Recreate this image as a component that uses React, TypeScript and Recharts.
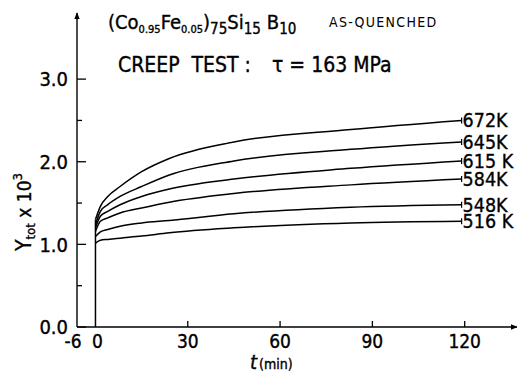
import { Line, LineChart, XAxis, YAxis } from "recharts"

// time in minutes
const times = [0, 1.6, 4, 8, 15, 24, 45, 83, 119]
const y672 = [1.3, 1.46, 1.58, 1.7, 1.88, 2.04, 2.24, 2.39, 2.5]
const y645 = [1.24, 1.4, 1.48, 1.58, 1.7, 1.84, 2.01, 2.15, 2.24]
const y615 = [1.2, 1.34, 1.4, 1.48, 1.58, 1.67, 1.79, 1.92, 2.01]
const y584 = [1.155, 1.28, 1.32, 1.38, 1.44, 1.51, 1.615, 1.72, 1.79]
const y548 = [1.095, 1.15, 1.18, 1.22, 1.26, 1.29, 1.37, 1.45, 1.48]
const y516 = [1.015, 1.05, 1.06, 1.075, 1.1, 1.14, 1.2, 1.26, 1.28]
const seriesNames = ["672K", "645K", "615 K", "584K", "548K", "516 K"]
const seriesValues = [y672, y645, y615, y584, y548, y516]

// instantaneous elastic jump at t = 0
const jumpT = [0, 0]
const jumpV = [0, 1.3]

const xTicks = [-6, 0, 30, 60, 90, 120]
const yTicks = [0, 0.5, 1, 1.5, 2, 2.5, 3]

const FONT = "'DejaVu Sans Condensed', 'DejaVu Sans', sans-serif"
const ink = { fill: "#000", stroke: "#000", strokeWidth: 0.35 }

const series = seriesNames.map((name, i) => ({
  name,
  data: times.map((t, j) => ({ t, v: seriesValues[i][j] })),
}))
const jumpData = jumpT.map((t, j) => ({ t, v: jumpV[j] }))

const YTick = (props: any) => {
  const { x, payload } = props
  const y = payload.coordinate
  const axisX = x + 6
  const major = Number.isInteger(payload.value)
  return (
    <g>
      <line x1={axisX} y1={y} x2={axisX + (major ? 9 : 5)} y2={y} stroke="#000" strokeWidth={1.3} />
      {major && (
        <text x={axisX - 9} y={y} dy="0.36em" textAnchor="end" fontSize={20} fontFamily={FONT} {...ink}>
          {payload.value.toFixed(1)}
        </text>
      )}
    </g>
  )
}

const XTick = (props: any) => {
  const { x, y, payload } = props
  const v = payload.value
  const axisY = y - 2
  return (
    <g>
      {v >= 30 && <line x1={x} y1={axisY} x2={x} y2={axisY - 6} stroke="#000" strokeWidth={1.3} />}
      <text
        x={v === -6 ? x - 4 : x + (v === 0 ? 2 : 0)}
        y={axisY}
        dy={21}
        textAnchor="middle"
        fontSize={19}
        fontFamily={FONT}
        {...ink}
      >
        {v}
      </text>
    </g>
  )
}

const endLabel = (name: string, last: number) => (p: any) => {
  if (p.index !== last) return <g key={p.index} />
  return (
    <g key={p.index}>
      <line x1={p.x} y1={p.y - 3} x2={p.x} y2={p.y + 3} stroke="#000" strokeWidth={1.2} />
      <text x={p.x + 1} y={p.y} dy="0.36em" fontSize={19.5} fontFamily={FONT} {...ink}>
        {name}
      </text>
    </g>
  )
}

export default function App() {
  return (
    <div style={{ position: "absolute", left: 0, top: 0, width: 517, height: 373, background: "#fff" }}>
      <svg width={0} height={0} style={{ position: "absolute" }}>
        <defs>
          <marker id="arrow" viewBox="0 0 10 10" refX={9} refY={5} markerWidth={7} markerHeight={7} orient="auto-start-reverse" markerUnits="userSpaceOnUse">
            <path d="M0,1 L10,5 L0,9 z" fill="#000" />
          </marker>
        </defs>
      </svg>
      <LineChart width={517} height={373} margin={{ top: 13, right: 0, bottom: 0, left: 0 }}>
        <XAxis
          type="number"
          dataKey="t"
          domain={[-6, 137]}
          allowDataOverflow
          ticks={xTicks}
          height={46}
          tickSize={0}
          tickMargin={2}
          tick={<XTick />}
          axisLine={{ stroke: "#000", strokeWidth: 1.4, markerEnd: "url(#arrow)" }}
          label={{
            content: (p: any) => (
              <text x={p.viewBox.x + 173} y={p.viewBox.y + 42} fontFamily={FONT} {...ink}>
                <tspan fontSize={20} fontStyle="italic">t</tspan>
                <tspan fontSize={14} dx={2}>(min)</tspan>
              </text>
            ),
          }}
        />
        <YAxis
          type="number"
          dataKey="v"
          domain={[0, 3.8]}
          allowDataOverflow
          ticks={yTicks}
          width={77}
          tickSize={0}
          tickMargin={6}
          tick={<YTick />}
          axisLine={{ stroke: "#000", strokeWidth: 1.4, markerStart: "url(#arrow)" }}
          label={{
            content: () => (
              <text transform="translate(31,212) rotate(-90)" textAnchor="middle" fontFamily={FONT} {...ink}>
                <tspan fontSize={21}>Y</tspan>
                <tspan fontSize={13} dy={4}>tot</tspan>
                <tspan fontSize={19} dy={-4}> x 10</tspan>
                <tspan fontSize={13} dy={-9}>3</tspan>
              </text>
            ),
          }}
        />
        <Line data={jumpData} dataKey="v" type="linear" stroke="#000" strokeWidth={1.5} dot={false} isAnimationActive={false} />
        {series.map((s) => (
          <Line
            key={s.name}
            data={s.data}
            dataKey="v"
            type="monotone"
            stroke="#000"
            strokeWidth={1.5}
            dot={false}
            isAnimationActive={false}
            label={endLabel(s.name, s.data.length - 1)}
          />
        ))}
      </LineChart>
      <svg width={517} height={373} style={{ position: "absolute", left: 0, top: 0, pointerEvents: "none" }}>
        <text x={108} y={29} fontFamily={FONT} fontSize={20} {...ink}>
          (Co
          <tspan fontSize={11} dy={4}>0.95</tspan>
          <tspan dy={-4}>Fe</tspan>
          <tspan fontSize={11} dy={4}>0.05</tspan>
          <tspan dy={-4}>)</tspan>
          <tspan fontSize={15} dy={5}>75</tspan>
          <tspan dy={-5}>Si</tspan>
          <tspan fontSize={15} dy={5}>15</tspan>
          <tspan dy={-5} dx={6}>B</tspan>
          <tspan fontSize={15} dy={5}>10</tspan>
        </text>
        <text x={329} y={27} fontFamily={FONT} fontSize={14} letterSpacing={1.3} fill="#000">
          AS-QUENCHED
        </text>
        <text x={118} y={72} fontFamily={FONT} fontSize={21} style={{ whiteSpace: "pre" }} {...ink}>
          {"CREEP  TEST :"}
        </text>
        <text x={272} y={72} fontFamily={FONT} fontSize={21} style={{ whiteSpace: "pre" }} {...ink}>
          {"τ = 163 MPa"}
        </text>
      </svg>
    </div>
  )
}
